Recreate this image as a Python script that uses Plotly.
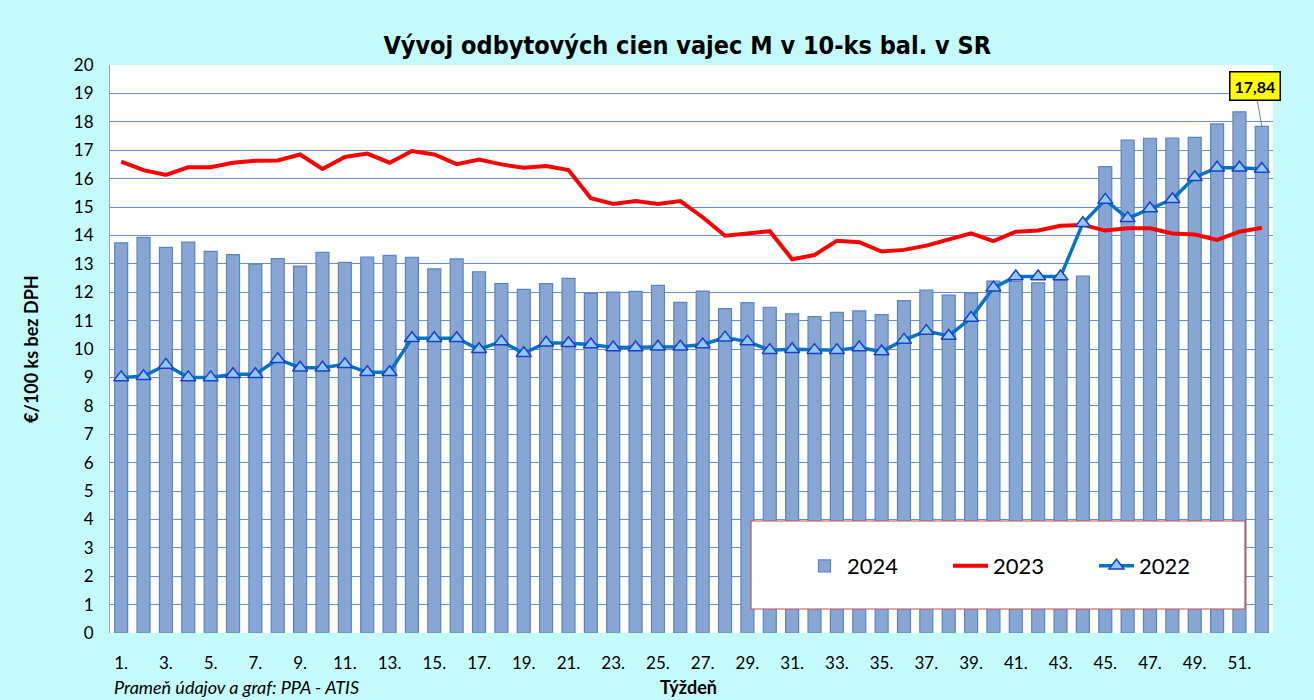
import plotly.graph_objects as go

weeks = list(range(1, 53))

val_2024 = [13.74, 13.93, 13.58, 13.76, 13.44, 13.32, 12.99, 13.18, 12.92, 13.40,
            13.05, 13.24, 13.30, 13.23, 12.82, 13.17, 12.72, 12.30, 12.10, 12.30,
            12.49, 11.96, 12.00, 12.03, 12.24, 11.64, 12.04, 11.42, 11.63, 11.47,
            11.24, 11.14, 11.29, 11.34, 11.21, 11.70, 12.07, 11.90, 11.97, 12.39,
            12.38, 12.33, 12.43, 12.57, 16.42, 17.36, 17.42, 17.43, 17.45, 17.93,
            18.35, 17.84]

val_2023 = [16.60, 16.30, 16.13, 16.40, 16.40, 16.56, 16.63, 16.64, 16.85, 16.34,
            16.76, 16.88, 16.56, 16.97, 16.85, 16.51, 16.67, 16.50, 16.38, 16.44,
            16.30, 15.31, 15.11, 15.21, 15.11, 15.21, 14.64, 13.99, 14.07, 14.15,
            13.16, 13.31, 13.81, 13.76, 13.43, 13.49, 13.64, 13.87, 14.07, 13.80,
            14.13, 14.17, 14.34, 14.37, 14.17, 14.25, 14.25, 14.07, 14.03, 13.84,
            14.13, 14.27]

val_2022 = [9.00, 9.04, 9.44, 9.00, 9.00, 9.11, 9.11, 9.64, 9.34, 9.34,
            9.46, 9.18, 9.18, 10.38, 10.38, 10.38, 9.99, 10.26, 9.85, 10.22,
            10.20, 10.16, 10.05, 10.05, 10.08, 10.08, 10.16, 10.40, 10.26, 9.96,
            9.99, 9.96, 9.96, 10.05, 9.91, 10.32, 10.63, 10.46, 11.09, 12.16,
            12.55, 12.55, 12.55, 14.43, 15.25, 14.60, 14.95, 15.27, 16.05, 16.38,
            16.38, 16.34]

tick_vals = list(range(1, 53, 2))
tick_text = [f"{w}." for w in tick_vals]

title_text = "Vývoj odbytových cien vajec M v 10-ks bal. v SR"
y_title = "€/100 ks bez DPH"
x_title = "Týždeň"
source_text = "Prameň údajov a graf: PPA - ATIS"
last_label = "17,84"

fig = go.Figure()
fig.add_trace(go.Bar(
    x=weeks, y=val_2024, name="2024",
    marker=dict(color="#87A6D3", line=dict(color="#5B84C0", width=1.2)),
))
fig.add_trace(go.Scatter(
    x=weeks, y=val_2023, name="2023", mode="lines",
    line=dict(color="#FF0000", width=4),
))
fig.add_trace(go.Scatter(
    x=weeks, y=val_2022, name="2022", mode="lines+markers",
    line=dict(color="#0A74C4", width=3.5),
    marker=dict(symbol="triangle-up", size=13, color="#8CC8FA",
                line=dict(color="#1F3FC8", width=1.5)),
))

fig.update_layout(
    width=1314, height=700,
    paper_bgcolor="#C4FAFA",
    plot_bgcolor="#FFFFFF",
    margin=dict(l=110, r=41, t=65, b=67),
    bargap=0.42,
    showlegend=True,
    title=dict(text=title_text, x=0.523, xanchor="center", y=0.935, yanchor="middle",
               font=dict(family="DejaVu Sans Condensed", size=25, color="#000000", weight="bold")),
    xaxis=dict(range=[0.5, 52.5], tickmode="array", tickvals=tick_vals, ticktext=tick_text,
               showgrid=False, zeroline=False, showline=False, ticks="",
               tickfont=dict(family="Lato", size=17, color="#000000"),
               ticklabelstandoff=18),
    yaxis=dict(range=[0, 20], dtick=1, showgrid=True, gridcolor="#6A8FC8", gridwidth=1.2,
               zeroline=False, showline=True, linecolor="#A0A0A0", linewidth=1, ticks="",
               tickfont=dict(family="Lato", size=17, color="#000000"),
               ticklabelstandoff=12),
    legend=dict(orientation="h", x=0.595, xanchor="left", y=0.118, yanchor="middle",
                bgcolor="rgba(0,0,0,0)", borderwidth=0,
                font=dict(family="Lato", size=22, color="#000000"),
                entrywidth=96, itemwidth=35, traceorder="normal"),
    shapes=[dict(type="rect", xref="paper", yref="paper",
                 x0=(751 - 110) / 1163, x1=(1245 - 110) / 1163,
                 y0=(633 - 609) / 568, y1=(633 - 521) / 568,
                 fillcolor="#FFFFFF", line=dict(color="#C0504D", width=1.2), layer="above")],
    annotations=[
        dict(x=52, y=17.84, xref="x", yref="y", text=f"<b>{last_label}</b>",
             showarrow=True, arrowhead=0, arrowcolor="#5B84C0", arrowwidth=1,
             ax=-7, ay=-40, bgcolor="#FFFF00", bordercolor="#000000", borderwidth=1.5,
             borderpad=4, font=dict(family="Lato", size=16, color="#000000")),
        dict(x=-0.068, y=0.5, xref="paper", yref="paper", text=f"<b>{y_title}</b>",
             textangle=-90, showarrow=False, xanchor="center", yanchor="middle",
             font=dict(family="Lato", size=18, color="#000000")),
        dict(x=0.497, y=-0.073, xref="paper", yref="paper", text=f"<b>{x_title}</b>",
             showarrow=False, xanchor="center", yanchor="top",
             font=dict(family="Lato", size=18, color="#000000")),
        dict(x=0.002, y=-0.073, xref="paper", yref="paper", text=f"<i>{source_text}</i>",
             showarrow=False, xanchor="left", yanchor="top",
             font=dict(family="Lato", size=18, color="#000000")),
    ],
)

fig.write_html("out.html", config={"displayModeBar": False},
               post_script="document.body.style.margin='0';document.body.style.overflow='hidden';")
